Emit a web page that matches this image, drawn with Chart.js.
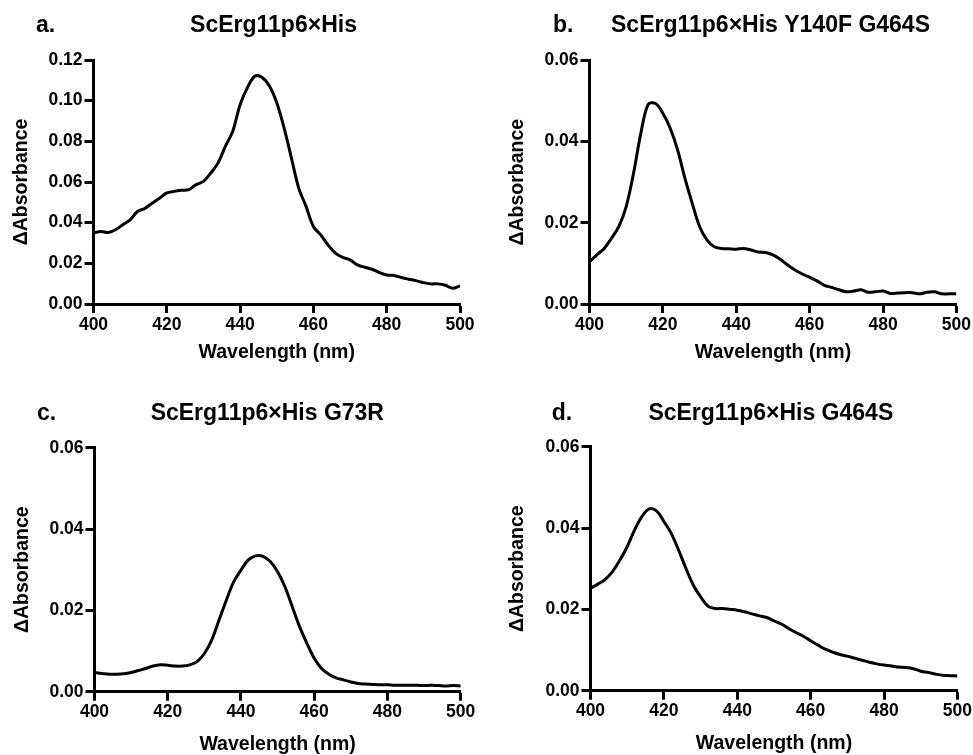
<!DOCTYPE html>
<html>
<head>
<meta charset="utf-8">
<script src="https://cdn.jsdelivr.net/npm/chart.js@4.4.1/dist/chart.umd.min.js"></script>
<style>
  html, body { margin: 0; padding: 0; background: #fff; }
  body { width: 973px; height: 755px; position: relative; overflow: hidden; }
  canvas { position: absolute; }
</style>
</head>
<body>
<canvas id="chA" width="486" height="378" style="left:0;top:0"></canvas>
<canvas id="chB" width="487" height="378" style="left:486px;top:0"></canvas>
<canvas id="chC" width="486" height="377" style="left:0;top:378px"></canvas>
<canvas id="chD" width="487" height="377" style="left:486px;top:378px"></canvas>
<script>
// ---- data (2 nm steps) ----
var wavelengths = [];
for (var w = 400; w <= 500; w += 2) wavelengths.push(w);

var absA = [0.0349, 0.0357, 0.0352, 0.0365, 0.039, 0.0414, 0.0455, 0.047, 0.0496, 0.052,
  0.0546, 0.0554, 0.0559, 0.0562, 0.0587, 0.0603, 0.0644, 0.0694, 0.0776, 0.085,
  0.098, 0.1064, 0.112, 0.1114, 0.1072, 0.099, 0.0866, 0.0718, 0.057, 0.048,
  0.0381, 0.034, 0.029, 0.025, 0.0229, 0.0217, 0.0192, 0.0181, 0.0171, 0.0155,
  0.0143, 0.014, 0.013, 0.0122, 0.0115, 0.0105, 0.0099, 0.0099, 0.0092, 0.0077, 0.0089];

var absB = [0.0104, 0.0121, 0.0137, 0.0162, 0.0191, 0.024, 0.0322, 0.0421, 0.0492, 0.0494,
  0.047, 0.0433, 0.038, 0.031, 0.0248, 0.0191, 0.0158, 0.0141, 0.0137, 0.0136,
  0.0135, 0.0137, 0.0133, 0.0128, 0.0127, 0.0121, 0.011, 0.0096, 0.0084, 0.0074,
  0.0066, 0.0057, 0.0046, 0.0041, 0.0035, 0.003, 0.0032, 0.0035, 0.0029, 0.003,
  0.0032, 0.0026, 0.0027, 0.0028, 0.0028, 0.0025, 0.0029, 0.003, 0.0025, 0.0025, 0.0025];

var absC = [0.0047, 0.0045, 0.0043, 0.0043, 0.0044, 0.0047, 0.0052, 0.0057, 0.0063, 0.0066,
  0.0065, 0.0063, 0.0063, 0.0066, 0.0074, 0.0094, 0.0127, 0.0176, 0.0225, 0.027,
  0.0299, 0.0324, 0.0334, 0.0333, 0.032, 0.0295, 0.0258, 0.0209, 0.016, 0.0119,
  0.0082, 0.0057, 0.0043, 0.0034, 0.0029, 0.0024, 0.002, 0.0019, 0.0018, 0.0017,
  0.0017, 0.0016, 0.0016, 0.0016, 0.0016, 0.0015, 0.0016, 0.0015, 0.0014, 0.0015, 0.0014];

var absD = [0.0252, 0.0262, 0.0274, 0.0293, 0.0321, 0.0354, 0.0395, 0.0428, 0.0447, 0.0442,
  0.0416, 0.0387, 0.0346, 0.0301, 0.026, 0.0231, 0.0208, 0.0202, 0.0202, 0.02,
  0.0198, 0.0194, 0.0189, 0.0184, 0.018, 0.0172, 0.0164, 0.0153, 0.0143, 0.0134,
  0.0123, 0.0112, 0.0102, 0.0095, 0.0089, 0.0085, 0.008, 0.0075, 0.007, 0.0066,
  0.0063, 0.0061, 0.0058, 0.0057, 0.0054, 0.0048, 0.0045, 0.0041, 0.0038, 0.0037, 0.0036];

var panelLetters = ["a.", "b.", "c.", "d."];
var panelTitles = [
  "ScErg11p6×His",
  "ScErg11p6×His Y140F G464S",
  "ScErg11p6×His G73R",
  "ScErg11p6×His G464S",
];
var yMax = [0.12, 0.06, 0.06, 0.06];

var FONT = '"Liberation Sans", Arial, Helvetica, sans-serif';
Chart.defaults.font.family = FONT;
Chart.defaults.color = "#000";

// letter + title drawn above each plot
var panelText = {
  id: "panelText",
  afterDraw: function (chart, args, opts) {
    var ctx = chart.ctx;
    ctx.save();
    ctx.fillStyle = "#000";
    ctx.font = "bold 23px " + FONT;
    ctx.textBaseline = "alphabetic";
    ctx.textAlign = "left";
    ctx.fillText(opts.letter, opts.letterX, opts.baseline);
    ctx.textAlign = "center";
    ctx.fillText(opts.title, opts.titleX, opts.baseline);
    ctx.restore();
  },
};

// box = chart area inside its canvas, plus text positions
function makePanel(id, idx, values, box) {
  var ctx = document.getElementById(id).getContext("2d");
  var cw = ctx.canvas.width, ch = ctx.canvas.height;
  return new Chart(ctx, {
    type: "line",
    plugins: [panelText],
    data: {
      datasets: [{
        data: wavelengths.map(function (x, i) { return { x: x, y: values[i] }; }),
        borderColor: "#000",
        borderWidth: 3,
        pointRadius: 0,
        tension: 0.35,
        fill: false,
      }],
    },
    options: {
      responsive: false,
      animation: false,
      devicePixelRatio: 1,
      layout: {
        padding: { left: 0, right: cw - box.right, top: box.top, bottom: ch - box.bottom - box.xH },
      },
      plugins: {
        legend: { display: false },
        title: { display: false },
        tooltip: { enabled: false },
        panelText: {
          letter: panelLetters[idx],
          title: panelTitles[idx],
          letterX: box.letterX,
          titleX: box.titleX,
          baseline: box.baseline,
        },
      },
      scales: {
        x: {
          type: "linear",
          min: 400,
          max: 500,
          afterFit: function (s) { s.height = box.xH; },
          border: { display: true, color: "#000", width: 3 },
          grid: { drawOnChartArea: false, drawTicks: true, tickLength: 9, tickWidth: 3, tickColor: "#000" },
          ticks: { stepSize: 20, padding: box.xTickPad, font: { size: 17.5, weight: "bold" }, maxRotation: 0 },
          title: {
            display: true,
            text: "Wavelength (nm)",
            font: { size: 19.5, weight: "bold", lineHeight: 1 },
            padding: { top: 0, bottom: 0 },
          },
        },
        y: {
          min: 0,
          max: yMax[idx],
          afterFit: function (s) { s.width = box.left; },
          border: { display: true, color: "#000", width: 3 },
          grid: { drawOnChartArea: false, drawTicks: true, tickLength: 9, tickWidth: 3, tickColor: "#000" },
          ticks: {
            stepSize: 0.02,
            padding: 2,
            font: { size: 17.5, weight: "bold" },
            callback: function (v) { return v.toFixed(2); },
          },
          title: {
            display: true,
            text: "ΔAbsorbance",
            font: { size: 19.5, weight: "bold", lineHeight: 1 },
            padding: { top: box.yTitlePad, bottom: 0 },
          },
        },
      },
    },
  });
}

makePanel("chA", 0, absA, { left: 93.5, right: 460, top: 60, bottom: 304, xH: 58, xTickPad: 2, yTitlePad: 12, letterX: 36, titleX: 273.5, baseline: 32 });
makePanel("chB", 1, absB, { left: 103.5, right: 472.3, top: 60.5, bottom: 304, xH: 58, xTickPad: 2, yTitlePad: 21.5, letterX: 67, titleX: 284.5, baseline: 32 });
makePanel("chC", 2, absC, { left: 94.5, right: 460.7, top: 69.7, bottom: 313.7, xH: 62.5, xTickPad: 1, yTitlePad: 12.5, letterX: 37, titleX: 267.3, baseline: 42 });
makePanel("chD", 3, absD, { left: 104.5, right: 472.3, top: 68.7, bottom: 312.7, xH: 62.5, xTickPad: 1, yTitlePad: 22, letterX: 65.7, titleX: 284.8, baseline: 42 });
</script>
</body>
</html>
